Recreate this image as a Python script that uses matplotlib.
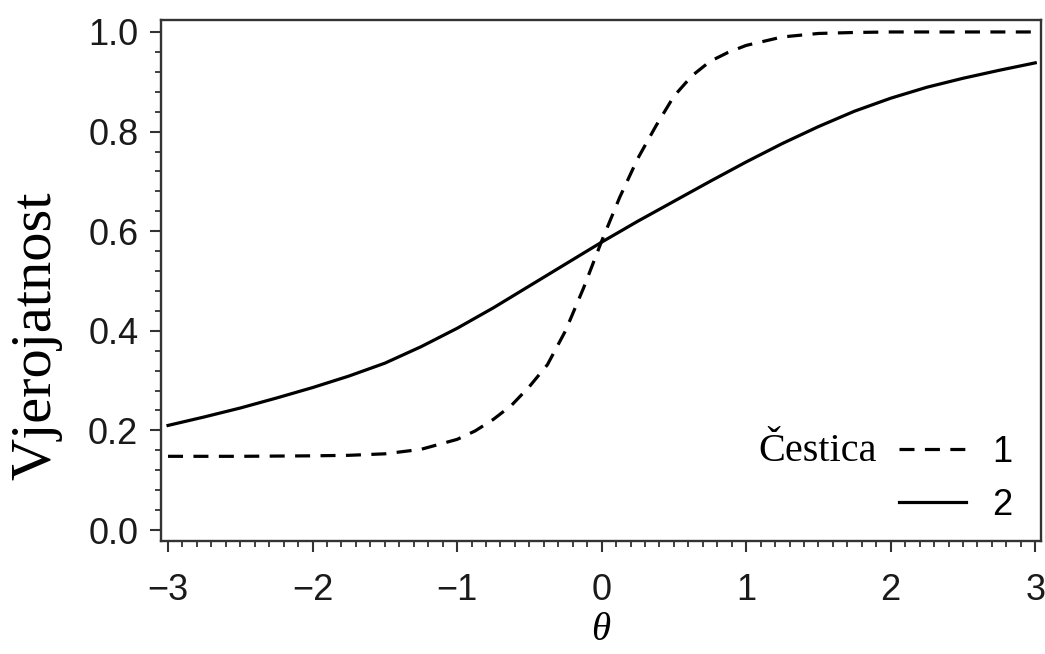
import matplotlib
matplotlib.use("Agg")
import matplotlib.pyplot as plt
from matplotlib.lines import Line2D
from matplotlib.ticker import MultipleLocator, FormatStrFormatter

# values
theta_solid = [-3.0, -2.75, -2.5, -2.25, -2.0, -1.75, -1.5, -1.25, -1.0, -0.75, -0.5, -0.25,
               0.0, 0.25, 0.5, 0.75, 1.0, 1.25, 1.5, 1.75, 2.0, 2.25, 2.5, 2.75, 3.0]
p_solid = [0.210, 0.227, 0.245, 0.265, 0.286, 0.309, 0.335, 0.368, 0.405, 0.446, 0.490, 0.534,
           0.578, 0.620, 0.660, 0.700, 0.739, 0.776, 0.810, 0.841, 0.867, 0.889, 0.907, 0.923, 0.938]

theta_dashed = [-3.0, -2.5, -2.0, -1.75, -1.5, -1.25, -1.0, -0.875, -0.75, -0.625, -0.5, -0.375,
                -0.25, -0.125, 0.0, 0.125, 0.25, 0.375, 0.5, 0.625, 0.75, 0.875, 1.0, 1.25,
                1.5, 1.75, 2.0, 2.5, 3.0]
p_dashed = [0.148, 0.148, 0.149, 0.150, 0.153, 0.162, 0.182, 0.199, 0.222, 0.250, 0.288, 0.332,
            0.400, 0.486, 0.580, 0.668, 0.746, 0.811, 0.871, 0.912, 0.941, 0.959, 0.973, 0.990,
            0.997, 0.999, 1.0, 1.0, 1.0]

item_labels = ["1", "2"]
legend_title = "Čestica"
x_label = "θ"
y_label = "Vjerojatnost"

plt.rcParams["lines.scale_dashes"] = False
plt.rcParams["font.family"] = ["Liberation Sans", "DejaVu Sans"]

fig = plt.figure(figsize=(10.45, 6.54), dpi=100)
ax = fig.add_axes([0.1536, 0.1728, 0.8426, 0.7966])

line_w = 2.3
dash_style = (0, (10.8, 7.5))
ax.plot(theta_dashed, p_dashed, color="black", lw=line_w, linestyle=dash_style)
ax.plot(theta_solid, p_solid, color="black", lw=line_w)

ax.set_xlim(-3.052, 3.04)
ax.set_ylim(-0.022, 1.024)

ax.xaxis.set_major_locator(MultipleLocator(1))
ax.xaxis.set_minor_locator(MultipleLocator(0.1))
ax.yaxis.set_major_locator(MultipleLocator(0.2))
ax.yaxis.set_minor_locator(MultipleLocator(0.04))
ax.yaxis.set_major_formatter(FormatStrFormatter("%.1f"))

spine_col = "#333333"
for s in ax.spines.values():
    s.set_color(spine_col)
    s.set_linewidth(1.7)

ax.tick_params(axis="both", which="major", length=8, width=1.5, color=spine_col,
               labelsize=26, labelcolor="#1a1a1a")
ax.tick_params(axis="both", which="minor", length=4.3, width=1.3, color=spine_col)
ax.tick_params(axis="x", which="major", pad=15)
ax.tick_params(axis="y", which="major", pad=8)

ax.set_xlabel(x_label, family="Liberation Serif", style="italic", fontsize=28, labelpad=3)
ax.set_ylabel(y_label, family="Liberation Serif", fontsize=42)
ax.yaxis.set_label_coords(-0.111, 0.393)

handles = [Line2D([], [], color="black", lw=line_w, linestyle=dash_style),
           Line2D([], [], color="black", lw=line_w)]
ax.legend(handles, item_labels, loc="lower right", bbox_to_anchor=(0.968, 0.035),
          frameon=False, fontsize=26, handlelength=1.85, handletextpad=0.75,
          labelspacing=0.5, borderaxespad=0, borderpad=0)
ax.text(0.8137, 0.1536, legend_title, transform=ax.transAxes, ha="right", va="baseline",
        family="Liberation Serif", fontsize=29)

fig.savefig("out.png", dpi=100)
